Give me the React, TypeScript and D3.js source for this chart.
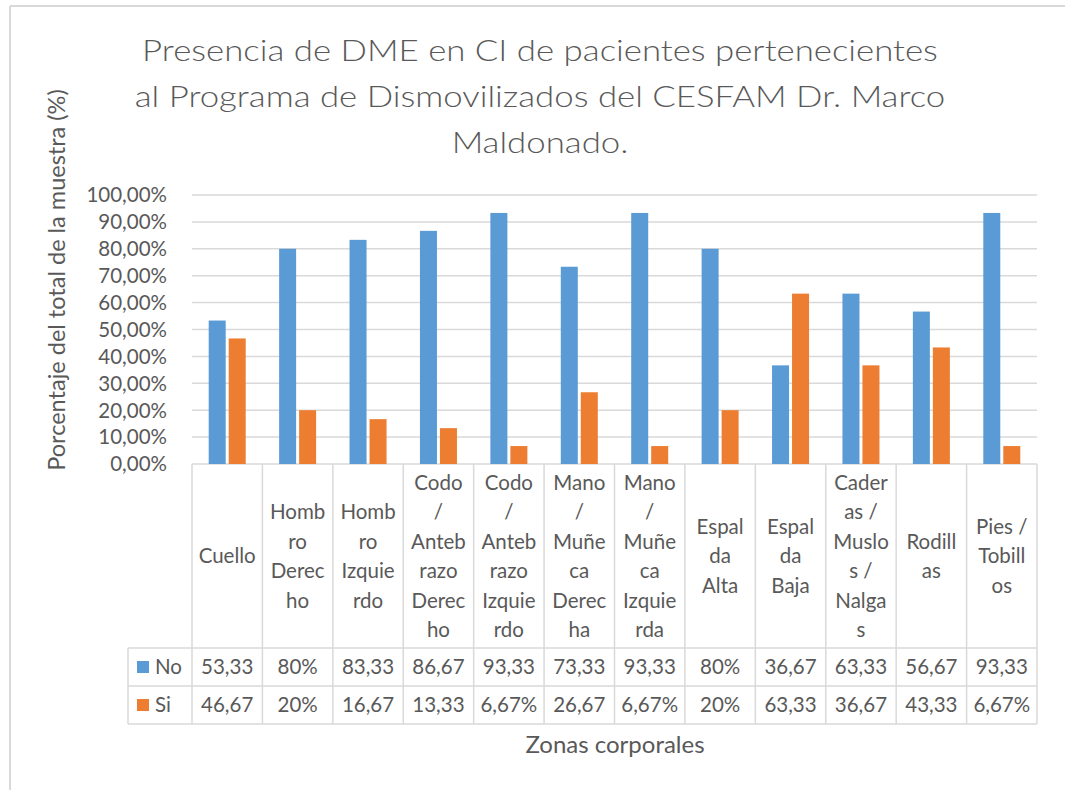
import React from "react";
import * as d3 from "d3";

const categoryLines: string[][] = [
  ["Cuello"],
  ["Homb", "ro", "Derec", "ho"],
  ["Homb", "ro", "Izquie", "rdo"],
  ["Codo", "/", "Anteb", "razo", "Derec", "ho"],
  ["Codo", "/", "Anteb", "razo", "Izquie", "rdo"],
  ["Mano", "/", "Muñe", "ca", "Derec", "ha"],
  ["Mano", "/", "Muñe", "ca", "Izquie", "rda"],
  ["Espal", "da", "Alta"],
  ["Espal", "da", "Baja"],
  ["Cader", "as /", "Muslo", "s /", "Nalga", "s"],
  ["Rodill", "as"],
  ["Pies /", "Tobill", "os"],
];

const noValues = [53.33, 80, 83.33, 86.67, 93.33, 73.33, 93.33, 80, 36.67, 63.33, 56.67, 93.33];
const siValues = [46.67, 20, 16.67, 13.33, 6.67, 26.67, 6.67, 20, 63.33, 36.67, 43.33, 6.67];
const seriesNames = ["No", "Si"];
const seriesColors = ["#5B9BD5", "#ED7D31"];
const yTicks = [0, 10, 20, 30, 40, 50, 60, 70, 80, 90, 100];

const titleLines = [
  "Presencia de DME en CI de pacientes pertenecientes",
  "al Programa de Dismovilizados del CESFAM Dr. Marco",
  "Maldonado.",
];
const yAxisTitle = "Porcentaje del total de la muestra (%)";
const xAxisTitle = "Zonas corporales";

const W = 1065;
const H = 790;
const FONT = "Lato, 'Open Sans', sans-serif";
const TXT = "#595959";
const GRID = "#d9d9d9";

const plotLeft = 192;
const plotRight = 1037;
const plotTop = 195;
const plotBottom = 464;
const headerBottom = 648;
const row1Bottom = 686;
const row2Bottom = 724;
const legendLeft = 128;

function fmtTable(v: number): string {
  const s = (Math.round(v * 100) / 100).toFixed(2).replace(/\.?0+$/, "").replace(".", ",") + "%";
  // Excel truncates cell text that does not fit
  return s.length > 5 ? s.slice(0, -1) : s;
}

function fmtTick(v: number): string {
  return v.toFixed(2).replace(".", ",") + "%";
}

export default function App() {
  const x = d3
    .scaleBand<number>()
    .domain(d3.range(categoryLines.length))
    .range([plotLeft, plotRight])
    .paddingInner(0)
    .paddingOuter(0);
  const y = d3.scaleLinear().domain([0, 100]).range([plotBottom, plotTop]);
  const bw = x.bandwidth();
  const barW = 17;
  const gap = 3;
  const series = [noValues, siValues];
  const lineH = 29.5;
  const fs = 20.5;

  const headerMid = (plotBottom + headerBottom) / 2;
  const rowBounds = [
    [headerBottom, row1Bottom],
    [row1Bottom, row2Bottom],
  ];

  return (
    <svg
      width={W}
      height={H}
      style={{ position: "absolute", left: 0, top: 0, background: "#fff" }}
      fontFamily={FONT}
    >
      <rect x={0} y={0} width={W} height={H} fill="#fff" />
      {/* outer chart border */}
      <line x1={10} y1={6} x2={W} y2={6} stroke={GRID} strokeWidth={2} />
      <line x1={10} y1={6} x2={10} y2={H} stroke={GRID} strokeWidth={2} />

      {/* title */}
      <g transform="translate(540,0) scale(1.2,1)">
        {titleLines.map((t, i) => (
          <text
            key={i}
            x={0}
            y={61 + i * 46}
            textAnchor="middle"
            fontSize={29}
            fontWeight={300}
            fill={TXT}
          >
            {t}
          </text>
        ))}
      </g>

      {/* gridlines */}
      {yTicks.map((t) => (
        <line
          key={t}
          x1={plotLeft}
          x2={plotRight}
          y1={y(t)}
          y2={y(t)}
          stroke={GRID}
          strokeWidth={1.5}
        />
      ))}
      {/* y tick labels */}
      {yTicks.map((t) => (
        <text
          key={"l" + t}
          x={167}
          y={y(t) + fs * 0.36}
          textAnchor="end"
          fontSize={fs}
          fill={TXT}
        >
          {fmtTick(t)}
        </text>
      ))}

      {/* bars */}
      {series.map((vals, si) =>
        vals.map((v, i) => {
          const c = (x(i) as number) + bw / 2;
          const bx = si === 0 ? c - gap / 2 - barW : c + gap / 2;
          return (
            <rect
              key={si + "-" + i}
              x={bx}
              y={y(v)}
              width={barW}
              height={y(0) - y(v)}
              fill={seriesColors[si]}
            />
          );
        })
      )}

      {/* data table: vertical lines */}
      {d3.range(categoryLines.length + 1).map((i) => {
        const xx = i < categoryLines.length ? (x(i) as number) : plotRight;
        return (
          <line
            key={"v" + i}
            x1={xx}
            x2={xx}
            y1={plotBottom}
            y2={row2Bottom}
            stroke={GRID}
            strokeWidth={1.5}
          />
        );
      })}
      <line x1={legendLeft} x2={legendLeft} y1={headerBottom} y2={row2Bottom} stroke={GRID} strokeWidth={1.5} />
      {[headerBottom, row1Bottom, row2Bottom].map((yy) => (
        <line key={"h" + yy} x1={legendLeft} x2={plotRight} y1={yy} y2={yy} stroke={GRID} strokeWidth={1.5} />
      ))}

      {/* header labels */}
      {categoryLines.map((lines, i) => {
        const c = (x(i) as number) + bw / 2;
        const y0 = headerMid - ((lines.length - 1) * lineH) / 2;
        return (
          <text key={"c" + i} textAnchor="middle" fontSize={fs} fill={TXT}>
            {lines.map((ln, j) => (
              <tspan key={j} x={c} y={y0 + j * lineH + fs * 0.36}>
                {ln}
              </tspan>
            ))}
          </text>
        );
      })}

      {/* rows */}
      {series.map((vals, si) => {
        const [r0, r1] = rowBounds[si];
        const mid = (r0 + r1) / 2;
        return (
          <g key={"row" + si}>
            <rect x={137} y={mid - 6} width={12} height={12} fill={seriesColors[si]} />
            <text x={155} y={mid + fs * 0.36} fontSize={fs} fill={TXT}>
              {seriesNames[si]}
            </text>
            {vals.map((v, i) => (
              <text
                key={i}
                x={(x(i) as number) + bw / 2}
                y={mid + fs * 0.36}
                textAnchor="middle"
                fontSize={fs}
                fill={TXT}
              >
                {fmtTable(v)}
              </text>
            ))}
          </g>
        );
      })}

      {/* axis titles */}
      <text
        transform={`translate(${65},${280}) rotate(-90)`}
        textAnchor="middle"
        fontSize={23.5}
        fill={TXT}
      >
        {yAxisTitle}
      </text>
      <text x={615} y={753} textAnchor="middle" fontSize={24} fill={TXT}>
        {xAxisTitle}
      </text>
    </svg>
  );
}
